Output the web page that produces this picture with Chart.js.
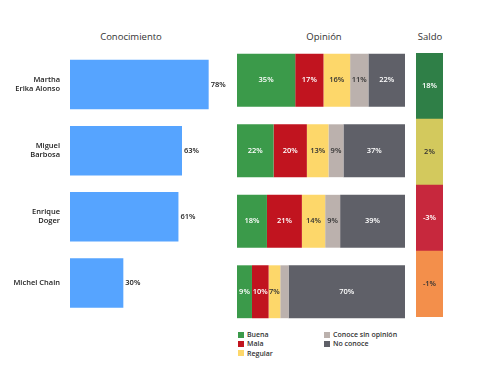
<!DOCTYPE html>
<html>
<head>
<meta charset="utf-8">
<script src="https://cdn.jsdelivr.net/npm/chart.js@4/dist/chart.umd.min.js"></script>
<style>
body { margin: 0; background: #fff; font-family: "Open Sans", sans-serif; color: #333; }
#lienzo { position: relative; width: 500px; height: 386px; }
canvas { position: absolute; }
.titulo { position: absolute; top: 30px; font-size: 9.5px; color: #333; transform: translateX(-50%); white-space: nowrap; }
.leyenda { position: absolute; font-size: 7px; font-weight: 600; color: #333; line-height: 9.4px; -webkit-font-smoothing: antialiased; }
.leyenda span { display: inline-block; width: 6px; height: 6px; margin-right: 3px; vertical-align: -0.5px; }
</style>
</head>
<body>
<div id="lienzo">
	<div class="titulo" style="left:131px">Conocimiento</div>
	<div class="titulo" style="left:324px">Opinión</div>
	<div class="titulo" style="left:430px">Saldo</div>
	<canvas id="conocimiento" width="230" height="282" style="left:0;top:45px"></canvas>
	<canvas id="opinion" width="168" height="282" style="left:237px;top:45px"></canvas>
	<canvas id="saldo" width="27" height="264" style="left:416px;top:53px"></canvas>
	<div class="leyenda" id="ley1" style="left:238px;top:330px"></div>
	<div class="leyenda" id="ley2" style="left:324px;top:330px"></div>
</div>
<script>
const candidatos = [["Martha", "Erika Alonso"], ["Miguel", "Barbosa"], ["Enrique", "Doger"], "Michel Chain"];
const conocimiento = [78, 63, 61, 30];
const categoriasOpinion = ["Buena", "Mala", "Regular", "Conoce sin opinión", "No conoce"];
const buena = [35, 22, 18, 9];
const mala = [17, 20, 21, 10];
const regular = [16, 13, 14, 7];
const sinOpinion = [11, 9, 9, 5];
const noConoce = [22, 37, 39, 70];
const saldo = [18, 2, -3, -1];

const coloresOpinion = ['#3b9a4a', '#c1141f', '#fdd76a', '#bbb1ad', '#5f6068'];
const textoOpinion = ['#fff', '#fff', '#333', '#333', '#fff'];
const coloresSaldo = ['#2f7f47', '#d3c95d', '#c7283d', '#f38f4b'];
const textoSaldo = ['#fff', '#333', '#fff', '#333'];

Chart.defaults.font.family = '"Open Sans", sans-serif';
Chart.defaults.color = '#333';

// draws value labels: either after the bar end or centred in the segment
const etiquetas = {
	id: 'etiquetas',
	afterDatasetsDraw: function (chart, args, opts) {
		if (!opts.texto) return;
		let ctx = chart.ctx;
		ctx.save();
		ctx.font = '600 7.5px "Open Sans", sans-serif';
		ctx.textBaseline = 'middle';
		chart.data.datasets.forEach(function (ds, i) {
			chart.getDatasetMeta(i).data.forEach(function (el, j) {
				let t = opts.texto(i, j);
				if (t === null) return;
				ctx.fillStyle = opts.color(i, j);
				if (opts.fuera) {
					ctx.textAlign = 'left';
					ctx.fillText(t, el.x + 2, el.y);
				} else {
					ctx.textAlign = 'center';
					ctx.fillText(t, (el.x + el.base) / 2, el.y);
				}
			});
		});
		ctx.restore();
	}
};
Chart.register(etiquetas);

function base (max, ejeY) {
	return {
		indexAxis: 'y',
		responsive: false,
		animation: false,
		layout: { padding: 0 },
		plugins: { legend: { display: false }, tooltip: { enabled: false } },
		scales: {
			x: { display: false, min: 0, max: max, stacked: true },
			y: ejeY
		}
	};
}

let op1 = base(90, {
	grid: { display: false },
	border: { display: false },
	ticks: { padding: 2, font: { size: 7.5, weight: 600 }, color: '#222' },
	afterFit: function (axis) { axis.width = 70; }
});
op1.plugins.etiquetas = {
	fuera: true,
	texto: function (i, j) { return conocimiento[j] + '%'; },
	color: function () { return '#222'; }
};
new Chart(document.getElementById('conocimiento'), {
	type: 'bar',
	data: {
		labels: candidatos,
		datasets: [{
			data: conocimiento,
			backgroundColor: '#56a4ff',
			barPercentage: 0.75,
			categoryPercentage: 1
		}]
	},
	options: op1
});

let series = [buena, mala, regular, sinOpinion, noConoce];
let op2 = base(101, { display: false, stacked: true });
op2.plugins.etiquetas = {
	texto: function (i, j) { return series[i][j] < 6 ? null : series[i][j] + '%'; },
	color: function (i) { return textoOpinion[i]; }
};
new Chart(document.getElementById('opinion'), {
	type: 'bar',
	data: {
		labels: candidatos,
		datasets: series.reduce(function (r, v, i) {
			r.push({
				label: categoriasOpinion[i],
				data: v,
				backgroundColor: coloresOpinion[i],
				barPercentage: 0.75,
				categoryPercentage: 1
			});
			return r;
		}, [])
	},
	options: op2
});

let op3 = base(1, { display: false });
op3.plugins.etiquetas = {
	texto: function (i, j) { return saldo[j] + '%'; },
	color: function (i, j) { return textoSaldo[j]; }
};
new Chart(document.getElementById('saldo'), {
	type: 'bar',
	data: {
		labels: candidatos,
		datasets: [{
			data: saldo.map(function () { return 1; }),
			backgroundColor: coloresSaldo,
			barPercentage: 1,
			categoryPercentage: 1
		}]
	},
	options: op3
});

// legend in two columns, like the original
categoriasOpinion.forEach(function (c, i) {
	let d = document.createElement('div');
	d.innerHTML = '<span style="background:' + coloresOpinion[i] + '"></span>' + c;
	document.getElementById(i < 3 ? 'ley1' : 'ley2').appendChild(d);
});
</script>
</body>
</html>
